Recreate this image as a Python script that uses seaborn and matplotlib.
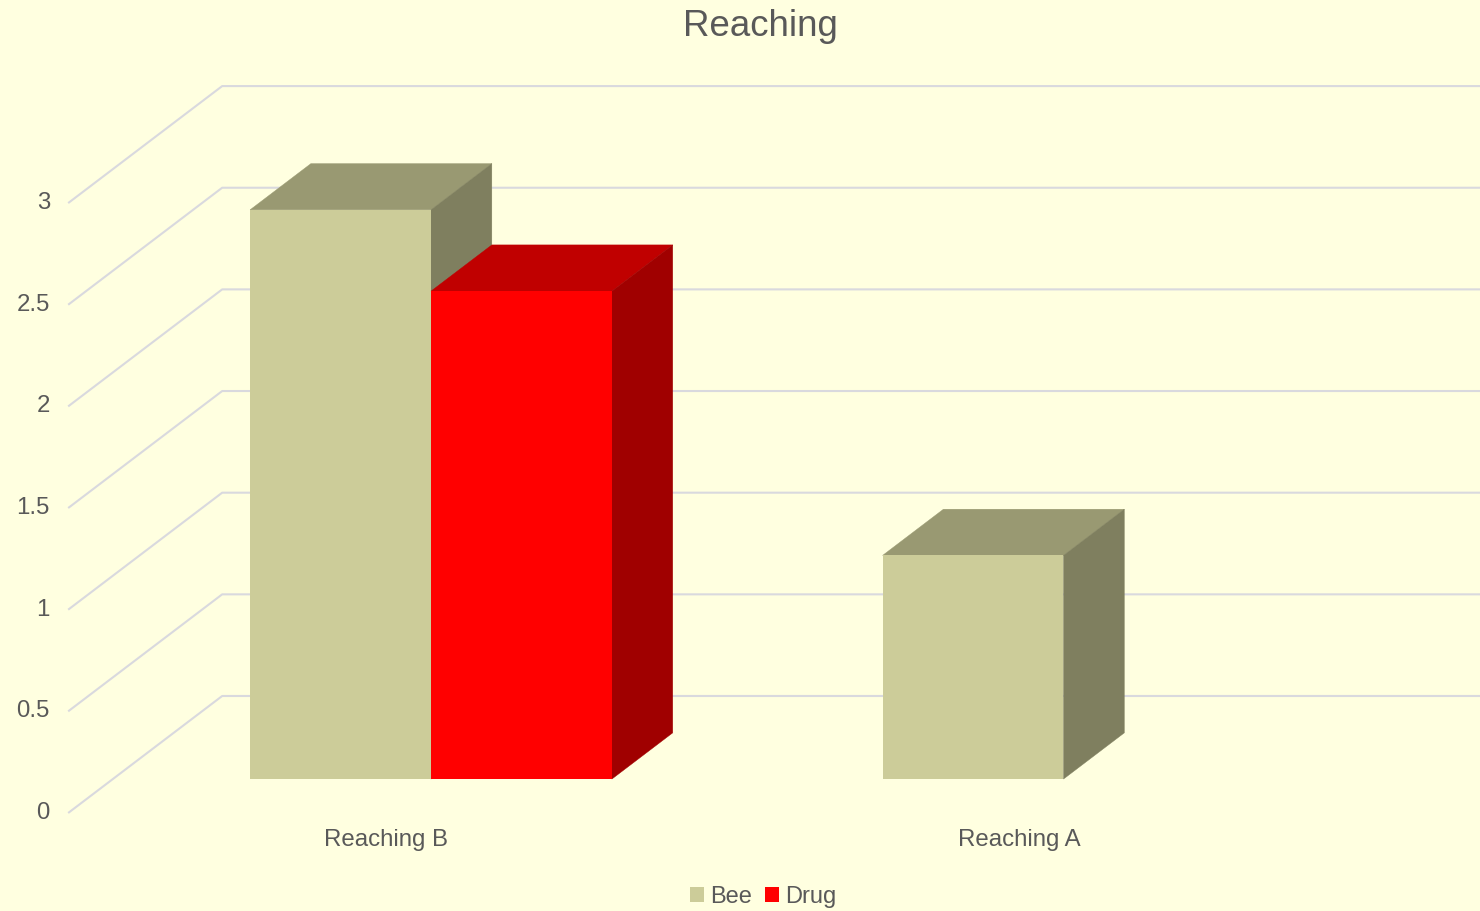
import matplotlib
matplotlib.use("Agg")
import matplotlib.pyplot as plt
from matplotlib.patches import Polygon
import numpy as np
import pandas as pd
import seaborn as sns

# ---- data ----
categories = ["Reaching B", "Reaching A"]
series = ["Bee", "Drug"]
bee_values = [2.8, 1.1]
drug_values = [2.4, None]
y_ticks = [0, 0.5, 1, 1.5, 2, 2.5, 3]
title = "Reaching"

# ---- styling ----
BG = "#FFFFE0"
GRID = "#D9D9DE"
TEXT = "#595959"
front_colors = {"Bee": "#CCCC99", "Drug": "#FF0000"}
top_colors = {"Bee": "#999972", "Drug": "#C00000"}
side_colors = {"Bee": "#7F7F5F", "Drug": "#A00000"}

sns.set_theme(style="white")
plt.rcParams["font.family"] = ["Liberation Sans", "DejaVu Sans"]

df = pd.DataFrame({
    "category": categories * 2,
    "series": ["Bee"] * len(categories) + ["Drug"] * len(categories),
    "value": bee_values + drug_values,
})
df["value"] = pd.to_numeric(df["value"])

fig = plt.figure(figsize=(14.8, 9.11), dpi=100, facecolor=BG)
ax = fig.add_axes([0, 0, 1, 1])
ax.set_facecolor(BG)

sns.barplot(data=df, x="category", y="value", hue="series", order=categories,
            hue_order=series, palette=front_colors, width=0.572, saturation=1,
            linewidth=0, ax=ax, legend=True)

# oblique projection: full floor depth vector (in data units) and bar placement
DX, DY = 0.2435, 0.5755      # front edge -> back wall
D_BAR = 0.29                 # depth of the bar fronts
D_LEN = 0.395                # bar depth
WALL_X = -0.503              # side wall position in the bar-front plane


def proj(x, v, d):
    return x + (d - D_BAR) * DX, v + (d - D_BAR) * DY


ax.set_xlim(-0.6814, 1.6585)
ax.set_ylim(-0.649, 3.832)

# back-wall gridlines and side-wall diagonals
for v in y_ticks:
    x0, y0 = proj(WALL_X, v, 0.0)
    x1, y1 = proj(WALL_X, v, 1.0)
    ax.plot([x0, x1, 5], [y0, y1, y1], color=GRID, lw=1.5, zorder=0.5,
            solid_capstyle="butt")
    ax.text(-0.6024, y0, f"{v:g}", ha="right", va="center", fontsize=17.3,
            color=TEXT)

# extruded faces for each bar
bdx, bdy = D_LEN * DX, D_LEN * DY
bars = [p for p in ax.patches
        if np.isfinite(p.get_height()) and p.get_height() > 0]
bars.sort(key=lambda p: p.get_x())
for i, p in enumerate(bars):
    fc = matplotlib.colors.to_hex(p.get_facecolor())
    name = "Bee" if fc.lower() == front_colors["Bee"].lower() else "Drug"
    x, w, h = p.get_x(), p.get_width(), p.get_height()
    z = 3 + 3 * i
    top = Polygon([(x, h), (x + w, h), (x + w + bdx, h + bdy), (x + bdx, h + bdy)],
                  closed=True, facecolor=top_colors[name],
                  edgecolor=top_colors[name], lw=0.3, zorder=z)
    side = Polygon([(x + w, 0), (x + w, h), (x + w + bdx, h + bdy), (x + w + bdx, bdy)],
                   closed=True, facecolor=side_colors[name],
                   edgecolor=side_colors[name], lw=0.3, zorder=z)
    ax.add_patch(top)
    ax.add_patch(side)
    p.set_zorder(z + 1)

# category labels along the front edge of the floor
for i, cat in enumerate(categories):
    cx, _ = proj(i, 0, 0.0)
    ax.text(cx, -0.30, cat, ha="center", va="center", fontsize=17.3, color=TEXT)

ax.set_axis_off()
fig.text(0.5135, 1 - 26 / 911, title, ha="center", va="center",
         fontsize=26.4, color=TEXT)

leg = ax.legend(loc="center", bbox_to_anchor=(0.5155, 1 - 897 / 911),
                bbox_transform=fig.transFigure, ncol=2, frameon=False,
                fontsize=17, handlelength=0.6, handleheight=0.6,
                handletextpad=0.25, columnspacing=0.55, borderpad=0)
for t in leg.get_texts():
    t.set_color(TEXT)

fig.savefig("out.png", dpi=100, facecolor=BG)
